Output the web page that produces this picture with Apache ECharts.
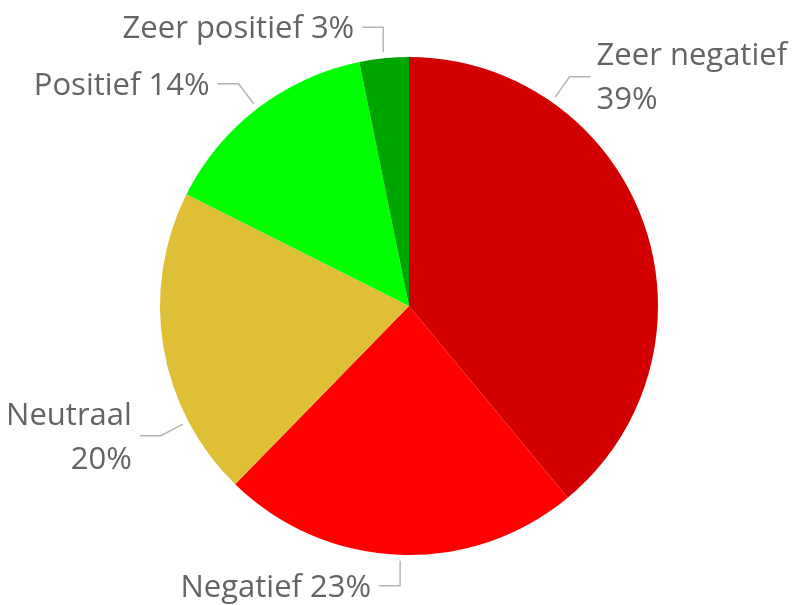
<!DOCTYPE html>
<html>
<head>
<meta charset="utf-8">
<script src="https://cdn.jsdelivr.net/npm/echarts@6/dist/echarts.min.js"></script>
<style>
  html, body { margin: 0; padding: 0; background: #fff; }
  #chart { width: 797px; height: 605px; }
</style>
</head>
<body>
<div id="chart"></div>
<script>
// data
const categories = ['Zeer negatief', 'Negatief', 'Neutraal', 'Positief', 'Zeer positief'];
const values = [39.0, 23.3, 20.1, 14.4, 3.2];
const colors = ['#d20000', '#ff0000', '#dfbf36', '#00ff00', '#00a600'];
// labels that are split over two lines
const wrapLabels = ['Zeer negatief', 'Neutraal'];

// label placement: angle (deg, clockwise from top) where the leader line starts
const labelAngles = [35, 182, 242.4, 322.5, 354.2];

const center = [409, 306];
const radius = 249;

const chart = echarts.init(document.getElementById('chart'));

function leader(i) {
  const a = labelAngles[i] * Math.PI / 180;
  let sx = Math.sin(a), cy = -Math.cos(a);
  const start = [center[0] + (radius + 6) * sx, center[1] + (radius + 6) * cy];
  // nearly vertical slices get a straight vertical first segment
  if (Math.abs(sx) < 0.12) { sx = 0; cy = cy > 0 ? 1 : -1; }
  const elbow = [start[0] + 25 * sx, start[1] + 25 * cy];
  const right = Math.sin(a) > 0;
  const end = [elbow[0] + (right ? 21 : -21), elbow[1]];
  return {start, elbow, end, right};
}

chart.setOption({
  animation: false,
  backgroundColor: '#fff',
  color: colors,
  series: [
    {
      type: 'pie',
      center: center,
      radius: radius,
      startAngle: 90,
      clockwise: true,
      avoidLabelOverlap: false,
      label: {
        show: true,
        position: 'outside',
        width: 300,
        color: '#646464',
        fontFamily: 'Open Sans',
        fontSize: 31,
        lineHeight: 44,
        formatter: function (p) {
          const sep = wrapLabels.indexOf(p.name) >= 0 ? '\n' : ' ';
          return p.name + sep + Math.round(p.percent) + '%';
        }
      },
      labelLine: {
        show: true,
        lineStyle: { color: '#b4b4b4', width: 1.5 }
      },
      labelLayout: function (params) {
        const l = leader(params.dataIndex);
        return {
          x: l.end[0] + (l.right ? 6 : -8),
          y: l.end[1] + 2,
          align: l.right ? 'left' : 'right',
          verticalAlign: 'middle',
          labelLinePoints: [l.start, l.elbow, l.end]
        };
      },
      emphasis: { disabled: true },
      data: categories.map((name, i) => ({ name: name, value: values[i] }))
    }
  ]
});
</script>
</body>
</html>
